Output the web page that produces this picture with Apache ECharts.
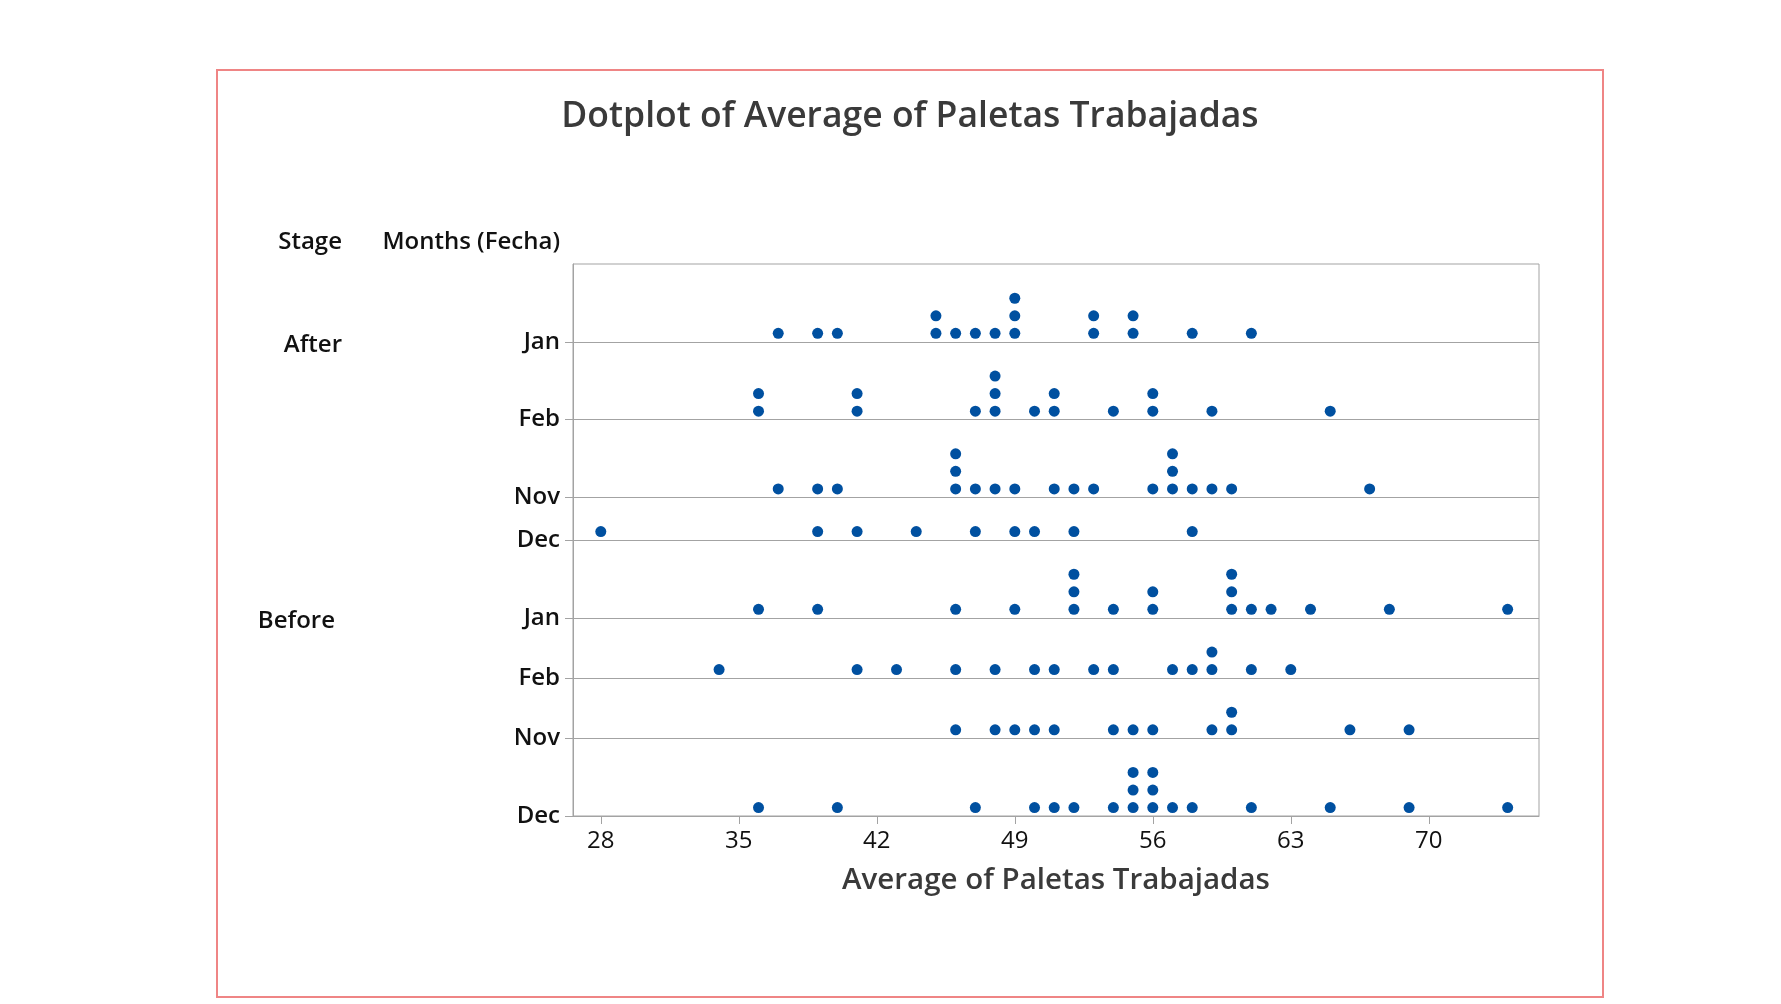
<!DOCTYPE html>
<html><head><meta charset="utf-8">
<script src="https://cdn.jsdelivr.net/npm/echarts@6/dist/echarts.min.js"></script>
<style>html,body{margin:0;padding:0;background:#fff}#c{width:1781px;height:1004px}</style>
</head><body><div id="c"></div>
<script>
// ---- data ----
const stages = ['After', 'Before'];
const months = ['Jan', 'Feb', 'Nov', 'Dec'];
const xTicks = [28, 35, 42, 49, 56, 63, 70];
const afterJan = [37, 39, 40, 45, 45, 46, 47, 48, 49, 49, 49, 53, 53, 55, 55, 58, 61];
const afterFeb = [36, 36, 41, 41, 47, 48, 48, 48, 50, 51, 51, 54, 56, 56, 59, 65];
const afterNov = [37, 39, 40, 46, 46, 46, 47, 48, 49, 51, 52, 53, 56, 57, 57, 57, 58, 59, 60, 67];
const afterDec = [28, 39, 41, 44, 47, 49, 50, 52, 58];
const beforeJan = [36, 39, 46, 49, 52, 52, 52, 54, 56, 56, 60, 60, 60, 61, 62, 64, 68, 74];
const beforeFeb = [34, 41, 43, 46, 48, 50, 51, 53, 54, 57, 58, 59, 59, 61, 63];
const beforeNov = [46, 48, 49, 50, 51, 54, 55, 56, 59, 60, 60, 66, 69];
const beforeDec = [36, 40, 47, 50, 51, 52, 54, 55, 55, 55, 56, 56, 56, 57, 58, 61, 65, 69, 74];
const groups = [
  [afterJan, afterFeb, afterNov, afterDec],
  [beforeJan, beforeFeb, beforeNov, beforeDec]
];

// ---- layout (derived from data) ----
const PAD = 1.43, OFF = 0.48;
const rows = [];
stages.forEach((s, si) => months.forEach((m, mi) => rows.push({ stage: s, month: m, vals: groups[si][mi] })));
rows.forEach(r => {
  const cnt = {};
  r.pts = r.vals.map(v => { const k = cnt[v] || 0; cnt[v] = k + 1; return [v, k]; });
  r.max = Math.max(...Object.values(cnt));
});
let acc = 0;
for (let i = rows.length - 1; i >= 0; i--) { rows[i].base = acc; acc += rows[i].max + PAD; }
const yMax = acc;
const bases = rows.map(r => r.base);
const scatterData = [];
rows.forEach(r => r.pts.forEach(([v, k]) => scatterData.push([v, r.base + OFF + k])));

const FONT = '"Open Sans", sans-serif';
const GRAY = '#a3a3a3';
const chart = echarts.init(document.getElementById('c'));
const option = {
  animation: false,
  backgroundColor: '#fff',
  grid: { left: 573, right: 242, top: 264, bottom: 188, show: true, borderColor: GRAY, borderWidth: 1, containLabel: false },
  xAxis: {
    type: 'value', min: 26.59, max: 75.59,
    name: 'Average of Paletas Trabajadas', nameLocation: 'middle', nameGap: 50,
    nameTextStyle: { fontFamily: FONT, fontSize: 29.5, fontWeight: 600, color: '#3a3a3a' },
    axisLine: { show: true, lineStyle: { color: GRAY, width: 1 } },
    axisTick: { show: true, length: 8, customValues: xTicks, lineStyle: { color: GRAY } },
    axisLabel: { customValues: xTicks, margin: 13, fontFamily: FONT, fontSize: 24, fontWeight: 500, color: '#111' },
    splitLine: { show: false }
  },
  yAxis: {
    type: 'value', min: 0, max: yMax,
    axisLine: { show: true, lineStyle: { color: GRAY, width: 1 } },
    axisTick: { show: true, length: 8, customValues: bases, lineStyle: { color: GRAY } },
    axisLabel: {
      customValues: bases, margin: 13, fontFamily: FONT, fontSize: 24, fontWeight: 600, color: '#111',
      padding: [4, 0, 0, 0],
      formatter: v => { const r = rows.find(q => Math.abs(q.base - v) < 1e-6); return r ? r.month : ''; }
    },
    splitLine: { show: false }
  },
  series: [{
    type: 'scatter', data: scatterData, symbol: 'circle', symbolSize: 11,
    itemStyle: { color: '#0050A0', opacity: 1 }, silent: true,
    markLine: {
      silent: true, symbol: 'none', label: { show: false },
      lineStyle: { color: GRAY, width: 1, type: 'solid' },
      data: rows.filter(r => r.base > 0).map(r => ({ yAxis: r.base }))
    }
  }]
};
chart.setOption(option);

const stageFirst = stages.map(s => rows.find(r => r.stage === s));
const stageY = stageFirst.map(r => chart.convertToPixel({ gridIndex: 0 }, [28, r.base])[1]);
chart.setOption({
  graphic: [
    { type: 'rect', shape: { x: 217, y: 70, width: 1386, height: 927 }, style: { fill: 'none', stroke: '#ef8585', lineWidth: 2 }, silent: true },
    { type: 'text', x: 910, y: 117, style: { text: 'Dotplot of Average of Paletas Trabajadas', font: `600 35.5px ${FONT}`, fill: '#3a3a3a', align: 'center', verticalAlign: 'middle' } },
    { type: 'text', x: 342, y: 242, style: { text: 'Stage', font: `600 24px ${FONT}`, fill: '#111', align: 'right', verticalAlign: 'middle' } },
    { type: 'text', x: 560, y: 242, style: { text: 'Months (Fecha)', font: `600 24px ${FONT}`, fill: '#111', align: 'right', verticalAlign: 'middle' } },
    { type: 'text', x: 342, y: stageY[0] + 3, style: { text: stages[0], font: `600 24px ${FONT}`, fill: '#111', align: 'right', verticalAlign: 'middle' } },
    { type: 'text', x: 335, y: stageY[1] + 3, style: { text: stages[1], font: `600 24px ${FONT}`, fill: '#111', align: 'right', verticalAlign: 'middle' } }
  ]
});
</script>
</body></html>
